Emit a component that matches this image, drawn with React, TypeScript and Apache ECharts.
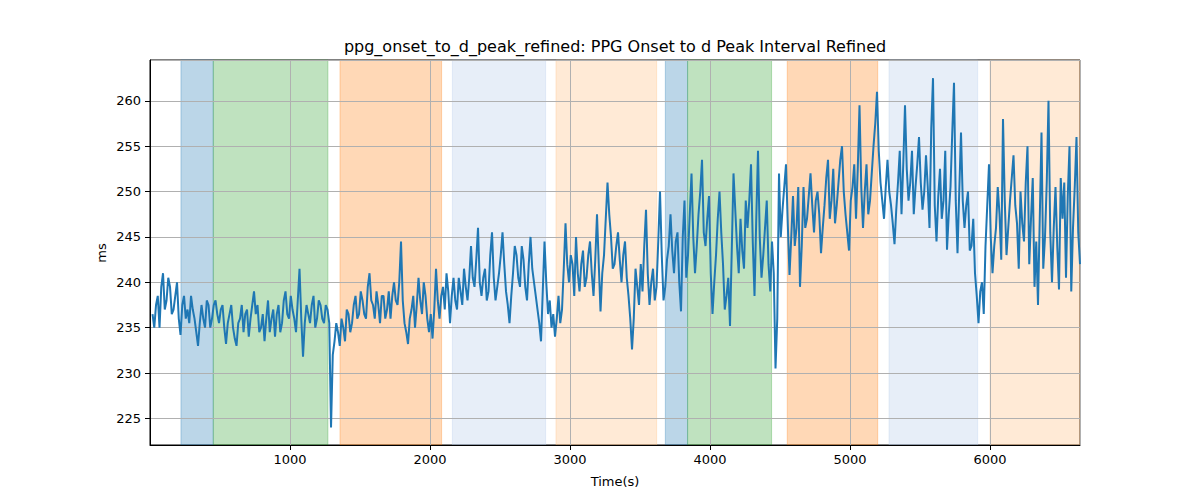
import React, { useEffect, useRef } from "react";
import * as echarts from "echarts";

const chartTitle = "ppg_onset_to_d_peak_refined: PPG Onset to d Peak Interval Refined";
const xAxisTitle = "Time(s)";
const yAxisTitle = "ms";

const startTime = 18;
const timeStep = 25;

// readings at startTime + i * timeStep
const values = [
  236.5, 237.5, 235.0, 241.0, 238.0, 239.5, 237.0, 240.0, 234.2, 238.5,
  237.0, 238.5, 236.0, 233.0, 237.5, 235.0, 237.5, 236.0, 238.0, 235.5,
  237.5, 233.2, 236.5, 235.0, 233.0, 236.0, 234.5, 237.0, 236.0, 239.0,
  237.5, 235.0, 233.5, 238.0, 236.0, 234.0, 237.5, 235.5, 239.0, 236.0,
  237.0, 234.5, 241.5, 231.8, 237.5, 235.5, 238.5, 236.0, 237.5, 235.5,
  237.0, 224.0, 233.5, 234.5, 236.0, 233.5, 236.5, 235.5, 238.5, 236.5,
  238.0, 236.0, 241.0, 237.5, 239.0, 235.5, 238.5, 237.0, 236.0, 240.0,
  237.5, 244.5, 235.5, 233.2, 237.0, 235.0, 240.5, 236.5, 238.5, 234.5,
  233.8, 241.5, 236.0, 239.5, 241.0, 235.5, 240.5, 237.0, 239.0, 241.5,
  238.0, 244.0, 239.5, 246.0, 238.5, 241.5, 239.0, 245.5, 238.0, 241.0,
  245.5, 239.0, 235.5, 241.0, 243.0, 239.5, 242.5, 238.0, 245.0, 240.0,
  237.0, 233.5, 244.5, 236.5, 235.0, 234.0, 238.5, 237.0, 246.5, 240.0,
  242.0, 245.0, 239.0, 243.5, 240.5, 244.5, 238.5, 247.5, 236.8, 243.0,
  251.0, 245.0, 242.0, 245.5, 240.0, 244.5, 238.5, 232.6, 241.5, 237.5,
  239.0, 248.0, 237.5, 241.5, 239.5, 250.0, 238.0, 242.5, 247.5, 241.0,
  245.5, 236.8, 249.0, 243.0, 252.0, 241.0, 247.5, 253.5, 244.0, 249.5,
  236.5, 243.0, 250.0, 242.0, 238.5, 235.2, 252.0, 244.0, 247.0, 241.5,
  246.0, 253.0, 238.5, 254.5, 240.5, 246.0, 242.0, 244.5, 230.5, 252.0,
  248.0, 253.0, 240.8, 249.5, 246.0, 239.5, 250.5, 247.0, 252.0, 245.5,
  250.0, 243.2, 248.5, 253.5, 249.0, 246.5, 251.0, 255.0, 247.5, 243.5,
  250.5, 247.0, 259.5, 246.0, 253.0, 249.0, 255.0, 261.0, 251.0, 247.0,
  253.5, 248.5, 244.2, 251.0, 247.5, 259.5, 249.0, 254.5, 250.5, 256.0,
  248.0, 254.0, 246.0, 262.5, 244.5, 252.5, 249.0, 243.6, 250.5, 262.0,
  243.2, 256.5, 246.0, 250.0, 244.0, 241.0, 235.5, 240.0, 244.0, 253.0,
  241.0, 246.0, 247.5, 258.0, 243.0, 249.0, 254.0, 246.5, 250.0, 244.5,
  255.0, 247.0, 239.5, 237.5, 256.5, 245.0, 260.0, 240.0, 250.5, 239.2,
  247.0, 240.5, 255.0, 246.0, 256.0, 242.0,
];

// readings half a step after each of the above
const midValues = [
  235.0, 238.5, 239.5, 237.0, 240.5, 236.5, 238.5, 236.0, 237.5, 236.0,
  235.5, 237.0, 234.5, 235.5, 236.0, 238.0, 235.0, 237.5, 236.5, 237.0,
  235.0, 235.5, 237.5, 233.8, 235.5, 237.5, 236.5, 234.0, 237.5, 236.5,
  234.5, 236.5, 236.0, 234.5, 237.0, 236.5, 234.5, 238.0, 236.5, 238.5,
  236.0, 238.0, 236.0, 235.5, 236.5, 237.5, 235.0, 238.0, 236.0, 237.5,
  235.5, 232.0, 235.5, 233.0, 235.0, 237.0, 234.5, 237.5, 236.0, 239.0,
  236.5, 239.5, 238.0, 236.0, 237.5, 238.5, 236.0, 239.0, 238.5, 238.0,
  240.0, 238.0, 234.5, 236.0, 238.5, 237.5, 238.0, 240.0, 236.0, 236.5,
  237.0, 238.0, 238.5, 237.0, 239.0, 238.5, 238.0, 240.5, 237.5, 239.5,
  240.5, 240.5, 242.5, 240.0, 240.5, 238.0, 243.0, 240.5, 239.5, 243.0,
  242.0, 237.5, 238.5, 244.0, 240.5, 244.0, 239.5, 242.0, 241.5, 238.5,
  235.5, 239.0, 240.0, 238.0, 236.5, 236.0, 235.5, 241.5, 242.0, 243.0,
  238.5, 241.0, 242.0, 239.5, 243.0, 241.0, 242.5, 242.0, 241.0, 247.0,
  247.5, 241.5, 244.0, 242.5, 243.0, 240.5, 236.0, 236.0, 239.5, 242.0,
  244.0, 241.0, 240.0, 238.0, 244.5, 243.0, 239.5, 244.0, 243.5, 244.5,
  240.0, 245.0, 240.5, 247.5, 245.0, 244.0, 250.0, 245.5, 247.0, 241.0,
  240.0, 247.0, 245.5, 237.0, 240.5, 243.5, 248.0, 241.0, 243.5, 249.0,
  249.0, 244.5, 247.0, 245.0, 243.0, 249.0, 239.0, 241.0, 236.0, 245.0,
  250.5, 246.5, 245.0, 244.0, 250.5, 244.0, 246.0, 249.5, 248.5, 249.0,
  247.5, 246.0, 251.5, 247.0, 252.5, 248.5, 253.5, 250.0, 245.5, 249.0,
  253.0, 252.5, 250.5, 250.0, 247.5, 252.0, 257.5, 254.5, 249.0, 250.5,
  250.0, 246.5, 248.0, 254.5, 253.0, 252.5, 251.0, 247.5, 253.0, 251.0,
  250.0, 250.5, 257.0, 248.5, 249.5, 247.0, 254.5, 247.5, 256.5, 249.0,
  250.0, 249.0, 248.5, 243.5, 247.0, 238.5, 239.0, 236.5, 248.5, 245.0,
  244.0, 250.5, 242.5, 249.0, 246.0, 251.5, 248.5, 241.5, 246.5, 251.0,
  242.0, 251.5, 244.5, 247.0, 241.5, 251.0, 245.5, 246.0, 244.0, 251.5,
  251.0, 249.5, 239.0, 250.5, 245.5,
];

const bandStarts = [221, 452, 1357, 2160, 2900, 3681, 3840, 4552, 5279, 6000];
const bandEnds = [452, 1271, 2083, 2826, 3619, 3840, 4440, 5198, 5912, 6643];
const bandColors = [
  "rgba(31,119,180,0.3)",
  "rgba(44,160,44,0.3)",
  "rgba(255,127,14,0.3)",
  "rgba(174,199,232,0.3)",
  "rgba(255,187,120,0.3)",
  "rgba(31,119,180,0.3)",
  "rgba(44,160,44,0.3)",
  "rgba(255,127,14,0.3)",
  "rgba(174,199,232,0.3)",
  "rgba(255,187,120,0.3)",
];

const xMin = 0;
const xMax = 6643;
const yMin = 222.07;
const yMax = 264.5;

export default function App() {
  const ref = useRef<HTMLDivElement>(null);

  useEffect(() => {
    document.body.style.margin = "0";
    if (!ref.current) return;
    const chart = echarts.init(ref.current, null, { renderer: "svg" });
    const font = "DejaVu Sans";
    const lineData: number[][] = [];
    values.forEach((v, i) => {
      const t = startTime + i * timeStep;
      lineData.push([t, v]);
      if (i < midValues.length) lineData.push([t + timeStep / 2, midValues[i]]);
    });
    const areas = bandStarts.map((s, i) => [
      { xAxis: s, itemStyle: { color: bandColors[i], borderColor: bandColors[i], borderWidth: 1 } },
      { xAxis: bandEnds[i] },
    ]);
    chart.setOption({
      animation: false,
      backgroundColor: "#ffffff",
      textStyle: { fontFamily: font },
      grid: {
        left: 150,
        right: 120,
        top: 60,
        bottom: 55,
        containLabel: false,
        show: true,
        borderColor: "#000",
        borderWidth: 1,
        backgroundColor: "transparent",
      },
      xAxis: {
        type: "value",
        z: 2,
        min: xMin,
        max: xMax,
        interval: 1000,
        axisLine: { show: true, lineStyle: { color: "#000", width: 1 } },
        axisTick: { show: true, length: 5, lineStyle: { color: "#000" } },
        axisLabel: {
          color: "#000",
          fontSize: 13,
          fontFamily: font,
          margin: 8,
          showMinLabel: false,
          showMaxLabel: false,
          formatter: (v: number) => String(v),
        },
        splitLine: { show: true, lineStyle: { color: "#b0b0b0", width: 1 } },
      },
      yAxis: {
        type: "value",
        z: 2,
        min: yMin,
        max: yMax,
        minInterval: 5,
        maxInterval: 5,
        axisLine: { show: true, lineStyle: { color: "#000", width: 1 } },
        axisTick: { show: true, length: 5, lineStyle: { color: "#000" } },
        axisLabel: {
          color: "#000",
          fontSize: 13,
          fontFamily: font,
          margin: 9,
          showMinLabel: false,
          showMaxLabel: false,
          formatter: (v: number) => String(v),
        },
        splitLine: { show: true, lineStyle: { color: "#b0b0b0", width: 1 } },
      },
      graphic: [
        {
          type: "text",
          x: 615,
          y: 46,
          style: {
            text: chartTitle,
            fontSize: 16,
            fontFamily: font,
            fill: "#000",
            textAlign: "center",
            textVerticalAlign: "middle",
          },
        },
        {
          type: "text",
          x: 615,
          y: 481,
          style: {
            text: xAxisTitle,
            fontSize: 13,
            fontFamily: font,
            fill: "#000",
            textAlign: "center",
            textVerticalAlign: "middle",
          },
        },
        {
          type: "text",
          x: 101,
          y: 253,
          rotation: Math.PI / 2,
          style: {
            text: yAxisTitle,
            fontSize: 13,
            fontFamily: font,
            fill: "#000",
            textAlign: "center",
            textVerticalAlign: "middle",
          },
        },
      ],
      series: [
        {
          type: "line",
          data: [],
          z: 1,
          silent: true,
          markArea: { silent: true, data: areas },
        },
        {
          type: "line",
          data: lineData,
          z: 3,
          showSymbol: false,
          symbol: "none",
          lineStyle: { color: "#1f77b4", width: 2 },
        },
      ],
    });
    return () => chart.dispose();
  }, []);

  return <div ref={ref} style={{ width: 1200, height: 500 }} />;
}
